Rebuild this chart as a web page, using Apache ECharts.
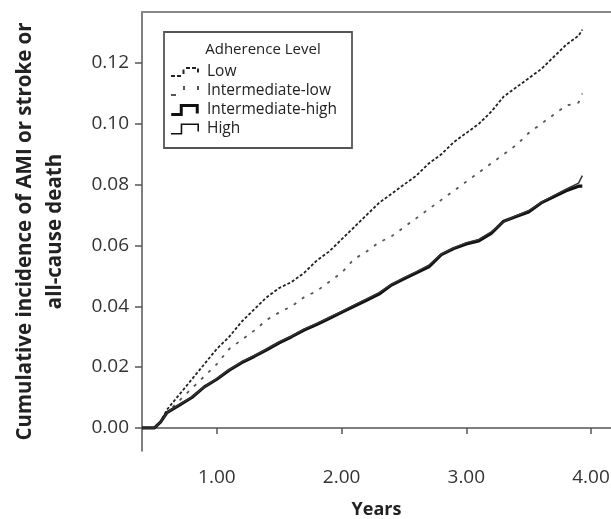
<!DOCTYPE html>
<html>
<head>
<meta charset="utf-8">
<script src="https://cdn.jsdelivr.net/npm/echarts@6/dist/echarts.min.js"></script>
<style>html,body{margin:0;padding:0;background:#fff}#c{width:611px;height:519px}</style>
</head>
<body>
<div id="c"></div>
<script>
// Follow-up time (years)
const years = [0.40,0.50,0.55,0.60,0.70,0.80,0.90,1.00,1.10,1.20,1.30,1.40,1.50,1.60,1.70,1.80,1.90,2.00,2.10,2.20,2.30,2.40,2.50,2.60,2.70,2.80,2.90,3.00,3.10,3.20,3.30,3.40,3.50,3.60,3.70,3.80,3.90,3.93];
const low = [0,0,0.002,0.006,0.011,0.016,0.021,0.026,0.030,0.035,0.039,0.043,0.046,0.048,0.051,0.055,0.058,0.062,0.066,0.070,0.074,0.077,0.080,0.083,0.087,0.090,0.094,0.097,0.100,0.104,0.109,0.112,0.115,0.118,0.122,0.126,0.129,0.131];
const intermediateLow = [0,0,0.002,0.005,0.009,0.013,0.017,0.021,0.026,0.029,0.032,0.0355,0.038,0.040,0.043,0.045,0.048,0.051,0.0555,0.058,0.061,0.063,0.066,0.069,0.072,0.075,0.078,0.081,0.084,0.087,0.090,0.093,0.097,0.100,0.103,0.106,0.107,0.110];
const intermediateHigh = [0,0,0.002,0.005,0.0075,0.010,0.0135,0.016,0.019,0.0215,0.0235,0.0257,0.028,0.030,0.0322,0.034,0.036,0.038,0.040,0.042,0.044,0.047,0.049,0.051,0.053,0.057,0.059,0.0605,0.0615,0.064,0.068,0.0695,0.071,0.074,0.076,0.078,0.0795,0.0795];
const high = [0,0,0.002,0.005,0.0077,0.0102,0.0135,0.0162,0.0192,0.0217,0.0238,0.0259,0.0283,0.0302,0.0325,0.0343,0.0363,0.0383,0.0404,0.0424,0.0445,0.0472,0.0494,0.0514,0.0535,0.0572,0.0592,0.0609,0.0620,0.0645,0.0678,0.0698,0.0715,0.0742,0.0764,0.0785,0.0805,0.0830];
const yTicks = [0,0.02,0.04,0.06,0.08,0.10,0.12];
const xTicks = [1,2,3,4];
const seriesNames = ['Low','Intermediate-low','Intermediate-high','High'];

const pair = arr => years.map((x,i)=>[x,arr[i]]);
const FONT = '"Open Sans", "DejaVu Sans", sans-serif';

const ICON_LOW = 'path://M0,9 h4 v2 h-4 Z M6,9 h4 v2 h-4 Z M11.5,3.5 h2 v4.5 h-2 Z M15,1 h4 v2 h-4 Z M21,1 h4 v2 h-4 Z M26,2.5 h2 v4 h-2 Z';
const ICON_ILOW = 'path://M0,9 h5 v2 h-5 Z M12,1 h2 v4 h-2 Z M26,1 h2 v4 h-2 Z';
const ICON_IHIGH = 'path://M0,8.5 L8.5,8.5 L8.5,-0.5 L27.5,-0.5 L27.5,9 L24.5,9 L24.5,2.5 L11.5,2.5 L11.5,11.5 L0,11.5 Z';
const ICON_HIGH = 'path://M0,9.25 L9.25,9.25 L9.25,0.25 L26.75,0.25 L26.75,8 L25.25,8 L25.25,1.75 L10.75,1.75 L10.75,10.75 L0,10.75 Z';

const chart = echarts.init(document.getElementById('c'), null, {renderer:'canvas'});
chart.setOption({
  animation:false,
  backgroundColor:'#fff',
  textStyle:{fontFamily:FONT},
  grid:{left:142, top:12, right:0, bottom:68, containLabel:false, outerBoundsMode:'none'},
  legend:{
    orient:'vertical', left:171, top:64, itemWidth:28, itemHeight:12, itemGap:3, padding:0,
    textStyle:{fontSize:15.5, lineHeight:15, color:'#222', fontFamily:FONT, padding:[0,0,0,3]},
    data:[
      {name:'Low', icon:ICON_LOW},
      {name:'Intermediate-low', icon:ICON_ILOW},
      {name:'Intermediate-high', icon:ICON_IHIGH},
      {name:'High', icon:ICON_HIGH}
    ]
  },
  graphic:[
    {type:'rect', shape:{x:164, y:32, width:188, height:116}, style:{fill:'none', stroke:'#555', lineWidth:1.8}, z:10},
    {type:'text', x:263, y:50, style:{text:'Adherence Level', fontSize:15, fill:'#222', fontFamily:FONT, align:'center', verticalAlign:'middle'}, z:10}
  ],
  xAxis:[{
    type:'value', min:0.4, max:4.16, position:'bottom',
    name:'Years', nameLocation:'middle', nameGap:50,
    nameTextStyle:{fontSize:18, fontWeight:'bold', color:'#222', fontFamily:FONT},
    axisLine:{show:true, lineStyle:{color:'#555', width:1.5}},
    axisTick:{show:true, customValues:xTicks, length:6, lineStyle:{color:'#555', width:1.5}},
    axisLabel:{show:true, customValues:xTicks, formatter:v=>v.toFixed(2), fontSize:19, color:'#333', margin:17, fontFamily:FONT},
    splitLine:{show:false}
  },{
    type:'value', min:0.4, max:4.16, position:'top',
    axisLine:{show:true, lineStyle:{color:'#888', width:2}},
    axisTick:{show:false}, axisLabel:{show:false}, splitLine:{show:false}
  }],
  yAxis:{
    type:'value', min:-0.0076, max:0.1368,
    name:'Cumulative incidence of AMI or stroke or\nall-cause death', nameLocation:'middle', nameRotate:90, nameGap:72,
    nameTextStyle:{fontSize:20.5, fontWeight:'bold', color:'#222', lineHeight:30, fontFamily:FONT},
    axisLine:{show:true, lineStyle:{color:'#555', width:1.5}},
    axisTick:{show:true, customValues:yTicks, length:7, lineStyle:{color:'#555', width:1.5}},
    axisLabel:{show:true, customValues:yTicks, formatter:v=>v.toFixed(2), fontSize:19, color:'#333', margin:13, fontFamily:FONT},
    splitLine:{show:false}
  },
  series:[
    {name:'Low', type:'line', symbol:'none', data:pair(low), lineStyle:{color:'#222', width:1.8, type:[3,2]}, itemStyle:{color:'#222'}, z:3},
    {name:'Intermediate-low', type:'line', symbol:'none', data:pair(intermediateLow), lineStyle:{color:'#555', width:1.8, type:[3,7]}, itemStyle:{color:'#555'}, z:3},
    {name:'Intermediate-high', type:'line', symbol:'none', data:pair(intermediateHigh), lineStyle:{color:'#111', width:3.2}, itemStyle:{color:'#111'}, z:4},
    {name:'High', type:'line', symbol:'none', data:pair(high), lineStyle:{color:'#333', width:1.5}, itemStyle:{color:'#111'}, z:5}
  ]
});
</script>
</body>
</html>
